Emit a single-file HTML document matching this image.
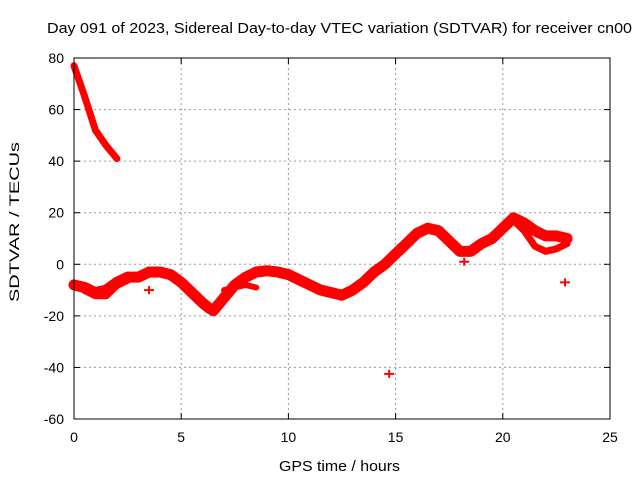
<!DOCTYPE html>
<html><head><meta charset="utf-8"><style>
body{margin:0;background:#fff;font-family:"Liberation Sans",sans-serif;}
svg text{font-family:"Liberation Sans",sans-serif;font-size:14px;fill:#000;}
</style></head><body>
<svg id="chart" width="640" height="480">
<text x="47" y="33" textLength="585" lengthAdjust="spacingAndGlyphs" style="font-size:15px">Day 091 of 2023, Sidereal Day-to-day VTEC variation (SDTVAR) for receiver cn00</text>
<text x="279" y="471" textLength="121" lengthAdjust="spacingAndGlyphs" style="font-size:15px">GPS time / hours</text>
<text transform="translate(19,302) rotate(-90)" textLength="160" lengthAdjust="spacingAndGlyphs" style="font-size:14px">SDTVAR / TECUs</text>
<g id="grid"></g><g id="marks"></g>
<rect x="74" y="58" width="536" height="361" fill="none" stroke="#000" stroke-width="1"/>
</svg>
<script>
const xTicks=[0,5,10,15,20,25];
const yTicks=[-60,-40,-20,0,20,40,60,80];
const trackMain=[[0,-8],[0.5,-9],[1,-11],[1.5,-10],[2,-7],[2.5,-5],[3,-5],[3.5,-3],[4,-3],[4.5,-4],[5,-7],[5.5,-11],[6,-15],[6.3,-17],[6.5,-18],[7,-13],[7.5,-8],[8,-5],[8.5,-3],[9,-2.5],[9.5,-3],[10,-4],[10.5,-6],[11,-8],[11.5,-10],[12,-11],[12.5,-12],[13,-10],[13.5,-7],[14,-3],[14.5,0],[15,4],[15.5,8],[16,12],[16.5,14],[17,13],[17.5,9],[18,5],[18.5,5],[19,8],[19.5,10],[20,14],[20.5,18],[21,16],[21.5,13],[22,11],[22.5,11],[23,10]];
const trackBranchA=[[0.5,-10],[1,-12],[1.5,-12],[2,-8],[2.5,-6]];
const trackBranchB=[[7,-10],[8,-8],[8.5,-9]];
const trackBranchC=[[20.5,17],[21,13],[21.5,7],[22,5],[22.5,6],[23,8]];
const trackSteep=[[0,77],[0.5,65],[1,52],[1.5,46],[2,41]];
const outliers=[[14.7,-42.5],[22.9,-7],[18.2,1],[3.5,-10]];
const X=h=>74+h*536/25, Y=v=>419-(v+60)*361/140;
const NS='http://www.w3.org/2000/svg';
const grid=document.getElementById('grid'), marks=document.getElementById('marks');
function mk(tag,attrs,parent){const e=document.createElementNS(NS,tag);for(const k in attrs)e.setAttribute(k,attrs[k]);parent.appendChild(e);return e;}
xTicks.forEach(t=>{
 if(t>0&&t<25){const g=mk('line',{x1:X(t),x2:X(t),y1:58,y2:419,stroke:'#999','stroke-dasharray':'2,3'},grid);
 
 }
 mk('line',{x1:X(t),x2:X(t),y1:419,y2:413,stroke:'#000'},grid);
 mk('line',{x1:X(t),x2:X(t),y1:58,y2:64,stroke:'#000'},grid);
 const l=mk('text',{x:X(t),y:442,'text-anchor':'middle'},grid);l.textContent=t;
 
 
});
yTicks.forEach(t=>{
 if(t>-60&&t<80){const g=mk('line',{x1:74,x2:610,y1:Y(t),y2:Y(t),stroke:'#999','stroke-dasharray':'2,3'},grid);
 
 }
 mk('line',{x1:74,x2:80,y1:Y(t),y2:Y(t),stroke:'#000'},grid);
 mk('line',{x1:604,x2:610,y1:Y(t),y2:Y(t),stroke:'#000'},grid);
 const l=mk('text',{x:64,y:Y(t)+5,'text-anchor':'end'},grid);l.textContent=t;
 
 
});
function track(arr,w,name){
 const p=mk('polyline',{points:arr.map(d=>X(d[0])+','+Y(d[1])).join(' '),fill:'none',stroke:'#f00','stroke-width':w,'stroke-linejoin':'round','stroke-linecap':'round'},marks);
 
 
}
track(trackMain,11,'sdtvar-main-track');
track(trackBranchA,8,'sdtvar-branch-early');
track(trackBranchB,6,'sdtvar-branch-morning');
track(trackBranchC,7,'sdtvar-branch-evening');
track(trackSteep,7,'sdtvar-steep-track');
outliers.forEach(d=>{
 const x=X(d[0]),y=Y(d[1]);
 const p=mk('path',{d:`M${x-5},${y}H${x+5}M${x},${y-4}V${y+4}`,stroke:'#f00','stroke-width':2},marks);
 
 
});
</script>
</body></html>
